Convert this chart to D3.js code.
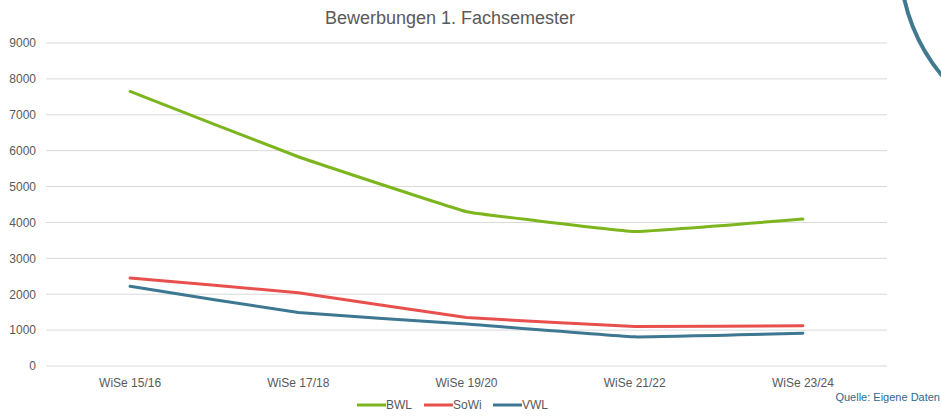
<!DOCTYPE html>
<html>
<head>
<meta charset="utf-8">
<script src="https://cdn.jsdelivr.net/npm/d3@7"></script>
<style>
	body { margin: 0; background: #fff; }
	svg { font-family: "Liberation Sans", Arial, sans-serif; }
	.grid line { stroke: #d9d9d9; stroke-width: 1; }
	.tick text { fill: #595959; font-size: 12px; }
</style>
</head>
<body>
<svg id="chart" width="941" height="417"></svg>
<script>
var semesters = ["WiSe 15/16", "WiSe 17/18", "WiSe 19/20", "WiSe 21/22", "WiSe 23/24"];
var bwl  = [7650, 5830, 4300, 3750, 4095];
var sowi = [2450, 2040, 1350, 1100, 1120];
var vwl  = [2220, 1490, 1170, 812, 910];
var yTicks = [0, 1000, 2000, 3000, 4000, 5000, 6000, 7000, 8000, 9000];
var seriesNames = ["BWL", "SoWi", "VWL"];
var seriesColors = ["#7cb51e", "#e8504d", "#3d7792"];

var svg = d3.select("#chart");

var x = d3.scaleBand().domain(semesters).range([46, 887]);
var y = d3.scaleLinear().domain([0, 9000]).range([366, 43]);

// decoration arc in the top right corner
svg.append("circle")
   .attr("cx", 1080).attr("cy", -40).attr("r", 180)
   .style("fill", "none")
   .style("stroke", "#41798f")
   .style("stroke-width", 4);

// title
svg.append("text")
   .attr("x", 450).attr("y", 24)
   .attr("text-anchor", "middle")
   .style("font-size", "18px")
   .style("fill", "#595959")
   .text("Bewerbungen 1. Fachsemester");

// gridlines
svg.append("g")
   .classed("grid", true)
   .selectAll("line")
   .data(yTicks)
   .enter()
   .append("line")
   .attr("x1", 46).attr("x2", 887)
   .attr("y1", d=>y(d)).attr("y2", d=>y(d));

// y axis
var yAxis = svg.append("g")
   .attr("transform", "translate(36,0)")
   .call(d3.axisLeft(y).tickValues(yTicks).tickSize(0).tickPadding(0).tickFormat(d3.format("d")));
yAxis.select(".domain").remove();

// x axis
var xAxis = svg.append("g")
   .attr("transform", "translate(0,366)")
   .call(d3.axisBottom(x).tickSize(0).tickPadding(12));
xAxis.select(".domain").remove();

// lines (slightly smoothed like the original)
var line = d3.line()
   .x((d, i)=>x(semesters[i]) + x.bandwidth() / 2)
   .y(d=>y(d))
   .curve(d3.curveCardinal.tension(0.8));

svg.append("g")
   .selectAll("path")
   .data([bwl, sowi, vwl])
   .enter()
   .append("path")
   .attr("d", line)
   .style("fill", "none")
   .style("stroke", (d, i)=>seriesColors[i])
   .style("stroke-width", 3)
   .style("stroke-linecap", "round");

// legend
var legendX = [357, 424, 493];
var legend = svg.append("g")
   .selectAll("g")
   .data(seriesNames)
   .enter()
   .append("g")
   .attr("transform", (d, i)=>"translate(" + legendX[i] + ",405)");
legend.append("line")
   .attr("x1", 0).attr("x2", 29)
   .style("stroke", (d, i)=>seriesColors[i])
   .style("stroke-width", 3);
legend.append("text")
   .attr("x", 29).attr("y", 4)
   .style("font-size", "12px")
   .style("fill", "#595959")
   .text(d=>d);

// source note
svg.append("text")
   .attr("x", 940).attr("y", 401)
   .attr("text-anchor", "end")
   .style("font-size", "11px")
   .style("fill", "#2d6a8c")
   .text("Quelle: Eigene Daten");
</script>
</body>
</html>
